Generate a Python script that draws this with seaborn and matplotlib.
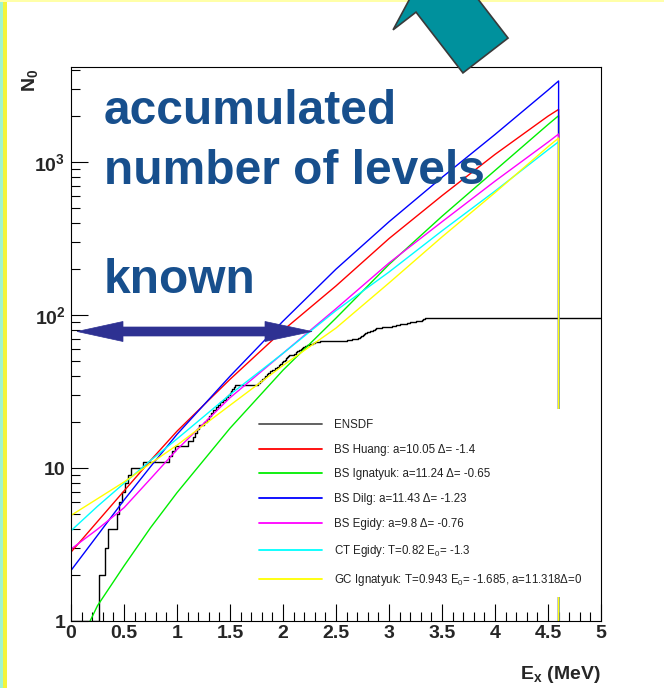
import numpy as np
import pandas as pd
import matplotlib
matplotlib.use("Agg")
import matplotlib.pyplot as plt
import seaborn as sns
from matplotlib.patches import Polygon, Rectangle
from matplotlib.ticker import FixedLocator, FixedFormatter, MultipleLocator, NullFormatter

# ---------------------------------------------------------------- data
# excitation-energy grid of the model curves (MeV)
energy = [0.0, 0.25, 0.5, 0.75, 1.0, 1.5, 2.0, 2.5, 3.0, 3.5, 4.0, 4.5, 4.6]

# cumulative number of levels predicted by each level-density model
bs_huang = [2.82, 4.47, 7.08, 11.2, 17.4, 38.0, 79.4, 155, 316, 603, 1122, 1995, 2208]
bs_ignatyuk = [0.55, 1.26, 2.29, 4.07, 6.9, 18.2, 43.6, 95.5, 214, 442, 881, 1758, 2009]
bs_dilg = [2.14, 3.63, 6.17, 10.2, 16.6, 39.8, 91.2, 199.5, 407, 794, 1514, 2951, 3388]
bs_egidy = [2.95, 3.98, 5.5, 8.5, 13.2, 28.8, 56.2, 110, 219, 407, 750, 1349, 1524]
ct_egidy = [3.89, 5.62, 7.94, 11.2, 15.5, 30.2, 56.2, 107, 191, 355, 646, 1202, 1358]
gc_ignatyuk = [4.9, 6.3, 8.1, 10.7, 14.1, 25.7, 46.8, 82.2, 162, 324, 631, 1259, 1435]

# ENSDF excited-level energies (MeV); the ground state sits at 0
ensdf_levels = [
    0.26, 0.32, 0.35, 0.43, 0.45, 0.48, 0.51, 0.54, 0.57, 0.68,
    0.92, 0.95, 0.98, 1.10, 1.15, 1.17, 1.19, 1.21, 1.25, 1.28,
    1.30, 1.32, 1.34, 1.37, 1.39, 1.41, 1.43, 1.46, 1.48, 1.50,
    1.51, 1.52, 1.54, 1.55, 1.76, 1.78, 1.80, 1.82, 1.83, 1.85,
    1.86, 1.88, 1.90, 1.92, 1.94, 1.96, 1.97, 1.99, 2.00, 2.02,
    2.03, 2.04, 2.05, 2.06, 2.10, 2.12, 2.13, 2.15, 2.17, 2.18,
    2.19, 2.21, 2.23, 2.25, 2.28, 2.30, 2.35, 2.60, 2.65, 2.71,
    2.73, 2.74, 2.75, 2.76, 2.77, 2.79, 2.81, 2.82, 2.85, 2.87,
    2.88, 2.93, 2.98, 3.03, 3.07, 3.10, 3.14, 3.17, 3.20, 3.25,
    3.29, 3.31, 3.32, 3.34,
]

labels = [
    "ENSDF",
    "BS Huang: a=10.05 \u0394= -1.4",
    "BS Ignatyuk: a=11.24 \u0394= -0.65",
    "BS Dilg: a=11.43 \u0394= -1.23",
    "BS Egidy: a=9.8 \u0394= -0.76",
    "CT Egidy: T=0.82 E$_0$= -1.3",
    "GC Ignatyuk: T=0.943 E$_0$= -1.685, a=11.318\u0394=0",
]
colors = ["black", "#ff0000", "#00ee00", "#0000ff", "#ff00ff", "#00ffff", "#ffff00"]

x_ticks = [0, 0.5, 1, 1.5, 2, 2.5, 3, 3.5, 4, 4.5, 5]
x_tick_labels = ["0", "0.5", "1", "1.5", "2", "2.5", "3", "3.5", "4", "4.5", "5"]
y_ticks = [1, 10, 100, 1000]
y_tick_labels = ["1", "10", r"$\mathbf{10^{2}}$", r"$\mathbf{10^{3}}$"]

# ---------------------------------------------------------------- style
sns.set_theme(style="white")
plt.rcParams["font.family"] = ["Liberation Sans", "DejaVu Sans"]
plt.rcParams["mathtext.fontset"] = "custom"
plt.rcParams["mathtext.rm"] = "Liberation Sans"
plt.rcParams["mathtext.bf"] = "Liberation Sans:bold"
plt.rcParams["mathtext.it"] = "Liberation Sans:italic"

W, H = 664, 688
fig = plt.figure(figsize=(W / 100, H / 100), dpi=100, facecolor="white")


def px(x, y):
    """pixel position (origin top-left) -> figure fraction"""
    return x / W, 1 - y / H


# slide border strips on the left and top
fig.patches.append(Rectangle((0, 0), 3.5 / W, 1, transform=fig.transFigure,
                             facecolor="#9ff5d0", edgecolor="none", zorder=0))
fig.patches.append(Rectangle((3.5 / W, 0), 3.5 / W, 1, transform=fig.transFigure,
                             facecolor="#f4f43a", edgecolor="none", zorder=0))
fig.patches.append(Rectangle((0, 1 - 1.5 / H), 1, 1.5 / H, transform=fig.transFigure,
                             facecolor="#ffffa8", edgecolor="none", zorder=0))

left, right, top, bottom = 71, 601, 66.7, 621
ax = fig.add_axes([left / W, 1 - bottom / H, (right - left) / W, (bottom - top) / H])
ax.set_facecolor("white")

# ---------------------------------------------------------------- plot
ensdf_x = [0.0] + ensdf_levels + [5.0]
ensdf_n = list(np.arange(1, len(ensdf_levels) + 2)) + [len(ensdf_levels) + 1]
sns.lineplot(x=ensdf_x, y=ensdf_n, ax=ax, color=colors[0], lw=1.0,
             drawstyle="steps-post", estimator=None, sort=False, label=labels[0])

models = [bs_huang, bs_ignatyuk, bs_dilg, bs_egidy, ct_egidy, gc_ignatyuk]
for vals, col, lab in zip(models, colors[1:], labels[1:]):
    # each calculated histogram ends at 4.6 MeV and falls back to zero there
    xs = energy + [energy[-1]]
    ys = list(vals) + [0.0]
    sns.lineplot(x=xs, y=ys, ax=ax, color=col, lw=1.0,
                 estimator=None, sort=False, label=lab)

ax.set_yscale("log")
ax.set_xlim(0, 5)
ax.set_ylim(1, 4200)

ax.xaxis.set_major_locator(FixedLocator(x_ticks))
ax.xaxis.set_major_formatter(FixedFormatter(x_tick_labels))
ax.xaxis.set_minor_locator(MultipleLocator(0.1))
ax.yaxis.set_major_locator(FixedLocator(y_ticks))
ax.yaxis.set_major_formatter(FixedFormatter(y_tick_labels))
minor_y = [m * 10 ** d for d in range(4) for m in range(2, 10)]
ax.yaxis.set_minor_locator(FixedLocator(minor_y))
ax.yaxis.set_minor_formatter(NullFormatter())

ax.tick_params(which="both", direction="in", bottom=True, left=True,
               top=False, right=False, color="black", width=0.8)
ax.tick_params(which="major", length=12.5, labelsize=14)
ax.tick_params(which="minor", length=6.5)
ax.tick_params(axis="x", pad=3)
ax.tick_params(axis="y", pad=4)
for lbl in ax.get_xticklabels() + ax.get_yticklabels():
    lbl.set_fontweight("bold")
for sp in ax.spines.values():
    sp.set_color("black")
    sp.set_linewidth(0.8)
ax.set_xlabel("")
ax.set_ylabel("")

leg = ax.legend(loc="upper left", bbox_to_anchor=px(249, 409), bbox_transform=fig.transFigure,
                frameon=True, facecolor="white", edgecolor="none", framealpha=1,
                fancybox=False, fontsize=8.3, handlelength=5.5, handletextpad=1.05,
                labelspacing=1.11, borderpad=0.85, borderaxespad=0)
leg.set_zorder(5)
for line in leg.get_lines():
    line.set_linewidth(1.3)
leg.get_lines()[0].set_color("#555555")
for t in leg.get_texts():
    t.set_color("#222222")

# axis titles
fig.text(*px(601, 679), r"$\mathbf{E_x}$ (MeV)", ha="right", va="baseline",
         fontsize=14, fontweight="bold")
fig.text(*px(30, 80), r"$\mathbf{N_0}$", ha="center", va="center", rotation=90,
         fontsize=14, fontweight="bold")

# annotation text
txt_col = "#174f8d"
fig.text(*px(104, 124), "accumulated", fontsize=34.5, fontweight="bold", color=txt_col,
         va="baseline", ha="left")
fig.text(*px(104, 184), "number of levels", fontsize=34.5, fontweight="bold", color=txt_col,
         va="baseline", ha="left")
fig.text(*px(104, 293), "known", fontsize=34.5, fontweight="bold", color=txt_col,
         va="baseline", ha="left")

# double-headed arrow spanning the known-level region
yc, hw_shaft, hw_head = 331.5, 4.5, 10
x_tip_l, x_base_l, x_base_r, x_tip_r = 77, 123, 265, 312
arrow_pts = [
    (x_tip_l, yc), (x_base_l, yc - hw_head), (x_base_l, yc - hw_shaft),
    (x_base_r, yc - hw_shaft), (x_base_r, yc - hw_head), (x_tip_r, yc),
    (x_base_r, yc + hw_head), (x_base_r, yc + hw_shaft), (x_base_l, yc + hw_shaft),
    (x_base_l, yc + hw_head),
]
fig.patches.append(Polygon([px(*p) for p in arrow_pts], closed=True, transform=fig.transFigure,
                           facecolor="#2e3192", edgecolor="#2e3192", lw=0.5, zorder=6))

# big teal arrow pointing up-left
base = np.array([485.5, 55.5])
d = np.array([-0.61, -0.79]); d /= np.linalg.norm(d)
n = np.array([0.79, -0.61]); n /= np.linalg.norm(n)
shaft_hw, head_hw, head_at, tip_at = 28.5, 57.5, 76.8, 102.5
teal_pts = [
    base - shaft_hw * n,
    base + head_at * d - shaft_hw * n,
    base + head_at * d - head_hw * n,
    base + tip_at * d,
    base + head_at * d + head_hw * n,
    base + head_at * d + shaft_hw * n,
    base + shaft_hw * n,
]
fig.patches.append(Polygon([px(*p) for p in teal_pts], closed=True, transform=fig.transFigure,
                           facecolor="#00919d", edgecolor="#3a3a3a", lw=1.2, zorder=7))

fig.savefig("out.png", dpi=100, facecolor="white")
